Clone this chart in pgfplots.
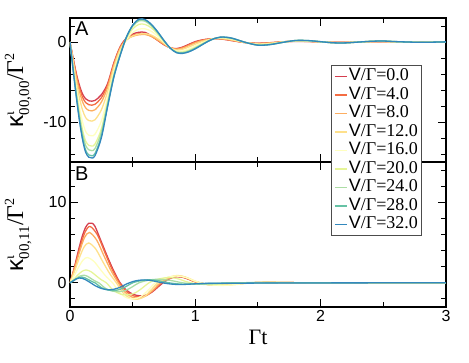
\documentclass[border=0pt]{standalone}
\usepackage{fontspec}
\setmainfont{Liberation Sans}
\newfontfamily\serif{Liberation Serif}
\newfontfamily\lsans{Liberation Sans}
\usepackage{pgfplots}
\usepackage{pgfplotstable}
\pgfplotsset{compat=1.18}

\definecolor{c0}{HTML}{D53E4F}
\definecolor{c4}{HTML}{F46D43}
\definecolor{c8}{HTML}{FDAE61}
\definecolor{c12}{HTML}{FEE08B}
\definecolor{c16}{HTML}{FFFFBF}
\definecolor{c20}{HTML}{E6F598}
\definecolor{c24}{HTML}{ABDDA4}
\definecolor{c28}{HTML}{66C2A5}
\definecolor{c32}{HTML}{3288BD}

\newcommand{\leg}[1]{{\lsans V}{\serif/Γ=#1}}
\newcommand{\klabel}[1]{{\fontsize{24}{24}\selectfont κ$^{\hbox{\serif\fontsize{14}{14}\selectfont ι}}_{\hbox{\serif\fontsize{15}{15}\selectfont #1}}$\serif/Γ$^{\hbox{\serif\fontsize{14}{14}\selectfont 2}}$}}

% top panel: kappa_{00,00}
\pgfplotstableread{
t     v0    v4    v8    v12   v16    v20    v24    v28    v32
0     0     0     0     0     0      0      0      0      0
0.025 -2.00 -2.11 -2.26 -2.53 -2.92  -3.19  -3.31  -3.44  -3.50
0.05  -3.90 -4.10 -4.39 -4.92 -5.67  -6.19  -6.42  -6.68  -6.80
0.075 -5.40 -5.71 -6.15 -6.94 -8.08  -8.88  -9.23  -9.62  -9.80
0.1   -6.50 -6.90 -7.47 -8.50 -9.98  -11.00 -11.46 -11.97 -12.20
0.125 -7.10 -7.57 -8.24 -9.45 -11.19 -12.39 -12.93 -13.53 -13.80
0.15  -7.35 -7.84 -8.55 -9.82 -11.65 -12.92 -13.48 -14.12 -14.40
0.175 -7.40 -7.90 -8.61 -9.89 -11.73 -13.01 -13.58 -14.22 -14.50
0.2   -7.30 -7.78 -8.47 -9.72 -11.51 -12.75 -13.30 -13.92 -14.20
0.25  -6.60 -6.98 -7.52 -8.49 -9.89  -10.87 -11.30 -11.78 -12.00
0.3   -5.20 -5.40 -5.69 -6.22 -6.97  -7.49  -7.72  -7.98  -8.10
0.35  -2.60 -2.73 -2.91 -3.23 -3.70  -4.02  -4.17  -4.33  -4.40
0.4   -0.60 -0.68 -0.79 -0.99 -1.27  -1.47  -1.56  -1.66  -1.70
0.45  0.50  0.39  0.28  0.22  0.32   0.46   0.59   0.60   0.60
0.5   1.00  0.84  0.71  0.75  1.19   1.63   1.96   2.06   2.10
0.55  1.22  1.03  0.90  0.99  1.61   2.21   2.64   2.78   2.85
0.6   1.20  1.04  0.93  1.04  1.64   2.19   2.59   2.74   2.80
0.65  0.75  0.70  0.70  0.86  1.33   1.75   2.01   2.14   2.20
0.7   0.20  0.21  0.26  0.41  0.73   0.99   1.13   1.23   1.27
0.75  -0.35 -0.31 -0.26 -0.16 -0.02  0.08   0.12   0.17   0.19
0.8   -0.72 -0.72 -0.73 -0.74 -0.75  -0.76  -0.76  -0.77  -0.77
0.85  -0.82 -0.86 -0.91 -1.00 -1.14  -1.23  -1.27  -1.32  -1.34
0.9   -0.62 -0.68 -0.76 -0.90 -1.11  -1.25  -1.32  -1.39  -1.42
0.95  -0.28 -0.35 -0.44 -0.61 -0.85  -1.02  -1.10  -1.18  -1.22
1.0   0.05  -0.01 -0.10 -0.27 -0.50  -0.66  -0.73  -0.81  -0.85
1.05  0.25  0.21  0.14  0.03  -0.14  -0.26  -0.31  -0.36  -0.39
1.1   0.37  0.35  0.32  0.26  0.19   0.13   0.11   0.08   0.07
1.15  0.42  0.42  0.42  0.42  0.42   0.42   0.42   0.42   0.42
1.2   0.38  0.40  0.42  0.46  0.52   0.56   0.58   0.60   0.61
1.25  0.28  0.30  0.33  0.39  0.47   0.52   0.55   0.58   0.59
1.3   0.15  0.17  0.20  0.26  0.33   0.39   0.41   0.44   0.45
1.4   -0.08 -0.08 -0.07 -0.07 -0.06  -0.06  -0.05  -0.05  -0.05
1.5   -0.15 -0.17 -0.19 -0.24 -0.30  -0.35  -0.37  -0.39  -0.40
1.6   -0.08 -0.10 -0.12 -0.16 -0.23  -0.27  -0.29  -0.31  -0.32
1.7   0.03  0.03  0.02  0.01  -0.01  -0.03  -0.03  -0.04  -0.04
1.8   0.08  0.09  0.10  0.12  0.15   0.17   0.18   0.19   0.19
1.9   0.06  0.07  0.08  0.10  0.13   0.15   0.16   0.18   0.18
2.0   0.00  0.00  0.01  0.01  0.02   0.03   0.03   0.04   0.04
2.1   -0.04 -0.04 -0.05 -0.06 -0.08  -0.09  -0.09  -0.10  -0.10
2.2   -0.04 -0.04 -0.05 -0.06 -0.08  -0.10  -0.10  -0.11  -0.11
2.3   -0.01 -0.01 -0.01 -0.01 -0.01  -0.01  -0.01  -0.01  -0.01
2.4   0.03  0.03  0.04  0.05  0.07   0.08   0.08   0.09   0.09
2.5   0.03  0.04  0.05  0.06  0.08   0.10   0.11   0.12   0.12
2.6   0.01  0.01  0.02  0.02  0.03   0.04   0.04   0.05   0.05
2.8   -0.01 -0.01 -0.02 -0.02 -0.03  -0.03  -0.04  -0.04  -0.04
3.0   0.00  0.00  0.00  0.01  0.01   0.02   0.02   0.02   0.02
}\toptab

\pgfplotsset{
  panel/.style={
    scale only axis, width=376pt,
    xmin=0, xmax=3,
    xtick={0,1,2,3}, minor xtick={0.5,1.5,2.5},
    axis line style={line width=1.2pt},
    major tick length=8pt, minor tick length=5pt,
    every tick/.style={black, line width=1pt},
    tick label style={font=\fontsize{16}{16}\selectfont},
    /pgf/number format/assume math mode=true,
    ylabel style={at={(axis description cs:-0.138,0.5)}, anchor=center},
    every axis plot/.append style={line width=1.3pt, smooth},
  }
}

\begin{document}
\begin{tikzpicture}
\path (-70pt,-55pt) rectangle (399pt,307pt);

% bottom panel: kappa_{00,11}
\begin{axis}[panel, height=145pt, at={(0pt,0pt)}, anchor=south west,
  ymin=-3, ymax=15, ytick={0,10}, yticklabels={0,10},
  minor ytick={-2,2,4,6,8,12,14},
  xticklabels={0,1,2,3},
  xlabel={\serif\fontsize{22}{22}\selectfont Γt},
  xlabel style={at={(axis description cs:0.5,0)}, anchor=center, yshift=-30pt},
  ylabel={\klabel{00,11}}]
\addplot[draw=c0] coordinates {(0,0) (0.025,1.3) (0.05,2.9) (0.075,4.5) (0.1,5.9) (0.125,6.9) (0.15,7.4) (0.175,7.4) (0.2,7.0) (0.25,5.1) (0.3,3.2) (0.35,1.45) (0.4,0) (0.45,-0.9) (0.5,-1.4) (0.55,-1.6) (0.6,-1.55) (0.65,-1.2) (0.7,-0.55) (0.75,0.1) (0.8,0.55) (0.85,0.75) (0.9,0.68) (0.95,0.42) (1.0,0.12) (1.1,-0.18) (1.2,-0.22) (1.3,-0.14) (1.4,-0.04) (1.5,0.04) (1.6,0.06) (1.8,0.02) (2.0,-0.02) (2.3,0) (2.6,0) (3.0,0)};
\addplot[draw=c4] coordinates {(0,0) (0.04,2.1) (0.08,4.41) (0.12,6.3) (0.16,7.0) (0.219,5.95) (0.278,3.78) (0.336,1.68) (0.395,0) (0.451,-1.09) (0.509,-1.63) (0.565,-1.75) (0.619,-1.49) (0.675,-0.79) (0.73,0) (0.79,0.56) (0.85,0.8) (0.9,0.72) (0.95,0.45) (1.0,0.13) (1.1,-0.2) (1.2,-0.24) (1.3,-0.15) (1.4,-0.04) (1.5,0.04) (1.6,0.06) (1.8,0.02) (2.0,-0.02) (2.3,0) (2.6,0) (3.0,0)};
\addplot[draw=c8] coordinates {(0,0) (0.039,1.88) (0.078,3.94) (0.116,5.63) (0.155,6.25) (0.213,5.31) (0.27,3.38) (0.328,1.5) (0.385,0) (0.44,-1.18) (0.495,-1.77) (0.55,-1.9) (0.606,-1.62) (0.664,-0.86) (0.72,0) (0.785,0.6) (0.85,0.85) (0.9,0.76) (0.95,0.48) (1.0,0.14) (1.1,-0.22) (1.2,-0.27) (1.3,-0.17) (1.4,-0.05) (1.5,0.04) (1.6,0.06) (1.8,0.02) (2.0,-0.02) (2.3,0) (2.6,0) (3.0,0)};
\addplot[draw=c12] coordinates {(0,0) (0.0375,1.49) (0.075,3.12) (0.1125,4.46) (0.15,4.95) (0.205,4.21) (0.26,2.67) (0.315,1.19) (0.37,0) (0.425,-1.27) (0.48,-1.91) (0.535,-2.05) (0.59,-1.74) (0.645,-0.92) (0.7,0) (0.775,0.63) (0.85,0.9) (0.9,0.82) (0.95,0.55) (1.0,0.2) (1.1,-0.22) (1.2,-0.3) (1.3,-0.22) (1.4,-0.07) (1.5,0.04) (1.6,0.07) (1.8,0.02) (2.0,-0.02) (2.3,0) (2.6,0) (3.0,0)};
\addplot[draw=c16] coordinates {(0,0) (0.035,0.95) (0.07,1.98) (0.105,2.84) (0.14,3.15) (0.19,2.68) (0.24,1.7) (0.29,0.76) (0.34,0) (0.396,-1.24) (0.454,-1.86) (0.51,-2.0) (0.566,-1.7) (0.624,-0.9) (0.68,0) (0.76,0.6) (0.84,0.85) (0.9,0.75) (0.95,0.52) (1.0,0.2) (1.1,-0.22) (1.2,-0.32) (1.3,-0.25) (1.4,-0.08) (1.5,0.04) (1.6,0.07) (1.8,0.02) (2.0,-0.02) (2.3,0) (2.6,0) (3.0,0)};
\addplot[draw=c20] coordinates {(0,0) (0.0325,0.48) (0.065,1.01) (0.0975,1.44) (0.13,1.6) (0.17,1.36) (0.21,0.86) (0.25,0.38) (0.29,0) (0.346,-0.93) (0.404,-1.4) (0.46,-1.5) (0.516,-1.28) (0.574,-0.68) (0.63,0) (0.705,0.46) (0.78,0.65) (0.85,0.55) (0.9,0.3) (0.95,0.05) (1.05,-0.18) (1.15,-0.2) (1.25,-0.12) (1.35,-0.03) (1.5,0.04) (1.7,0.03) (2.0,-0.01) (2.3,0) (2.6,0) (3.0,0)};
\addplot[draw=c24] coordinates {(0,0) (0.0275,0.29) (0.055,0.6) (0.0825,0.86) (0.11,0.95) (0.14,0.81) (0.17,0.51) (0.2,0.23) (0.23,0) (0.283,-0.68) (0.337,-1.02) (0.39,-1.1) (0.443,-0.94) (0.497,-0.5) (0.55,0) (0.625,0.32) (0.7,0.45) (0.8,0.3) (0.9,0.0) (1.0,-0.15) (1.1,-0.15) (1.2,-0.08) (1.3,0.0) (1.5,0.03) (1.8,0.0) (2.2,0) (2.6,0) (3.0,0)};
\addplot[draw=c28] coordinates {(0,0) (0.024,0.22) (0.0475,0.45) (0.071,0.65) (0.095,0.72) (0.121,0.61) (0.148,0.39) (0.174,0.17) (0.2,0) (0.25,-0.59) (0.3,-0.88) (0.35,-0.95) (0.4,-0.81) (0.45,-0.43) (0.5,0) (0.565,0.27) (0.63,0.38) (0.7,0.28) (0.8,-0.02) (0.9,-0.17) (1.0,-0.13) (1.1,-0.07) (1.2,-0.04) (1.4,-0.02) (1.7,0) (2.0,0) (2.5,0) (3.0,0)};
\addplot[draw=c32] coordinates {(0,0) (0.025,0.25) (0.05,0.5) (0.075,0.6) (0.1,0.55) (0.125,0.38) (0.15,0.15) (0.175,-0.1) (0.2,-0.35) (0.25,-0.7) (0.3,-0.85) (0.35,-0.8) (0.4,-0.55) (0.45,-0.15) (0.5,0.15) (0.55,0.32) (0.6,0.35) (0.65,0.28) (0.7,0.12) (0.75,-0.03) (0.8,-0.14) (0.85,-0.2) (0.9,-0.2) (0.95,-0.17) (1.0,-0.12) (1.1,-0.06) (1.2,-0.05) (1.4,-0.04) (1.6,-0.02) (2.0,-0.01) (2.5,0) (3.0,0)};
\node[anchor=north west, inner sep=0pt, font=\fontsize{20}{20}\selectfont, xshift=5pt, yshift=-5pt] at (rel axis cs:0,1) {B};
\end{axis}

% top panel
\begin{axis}[panel, height=144pt, at={(0pt,145pt)}, anchor=south west,
  ymin=-15, ymax=3, ytick={-10,0}, yticklabels={-10,0},
  minor ytick={-14,-12,-8,-6,-4,-2,2},
  xticklabels={},
  ylabel={\klabel{00,00}},
  legend cell align=left,
  legend image code/.code={\draw[#1, line width=1.2pt] (0pt,0pt) -- (12pt,0pt);},
  legend style={at={(axis description cs:0.6968,0.6736)}, anchor=north west,
    name=leg, draw=none, fill=white,
    font=\fontsize{18}{18}\selectfont,
    inner xsep=2pt, inner ysep=2pt,
    nodes={inner sep=1.5pt, text height=12pt, text depth=3.5pt}}]
\addplot[draw=c0] table[x=t, y=v0] {\toptab};
\addlegendentry{\leg{0.0}}
\addplot[draw=c4] table[x=t, y=v4] {\toptab};
\addlegendentry{\leg{4.0}}
\addplot[draw=c8] table[x=t, y=v8] {\toptab};
\addlegendentry{\leg{8.0}}
\addplot[draw=c12] table[x=t, y=v12] {\toptab};
\addlegendentry{\leg{12.0}}
\addplot[draw=c16] table[x=t, y=v16] {\toptab};
\addlegendentry{\leg{16.0}}
\addplot[draw=c20] table[x=t, y=v20] {\toptab};
\addlegendentry{\leg{20.0}}
\addplot[draw=c24] table[x=t, y=v24] {\toptab};
\addlegendentry{\leg{24.0}}
\addplot[draw=c28] table[x=t, y=v28] {\toptab};
\addlegendentry{\leg{28.0}}
\addplot[draw=c32] table[x=t, y=v32] {\toptab};
\addlegendentry{\leg{32.0}}
\node[anchor=north west, inner sep=0pt, font=\fontsize{20}{20}\selectfont, xshift=5pt, yshift=-4pt] at (rel axis cs:0,1) {A};
\end{axis}
\draw[black!70, line width=1pt] (leg.south west) rectangle (leg.north east);
\end{tikzpicture}
\end{document}
